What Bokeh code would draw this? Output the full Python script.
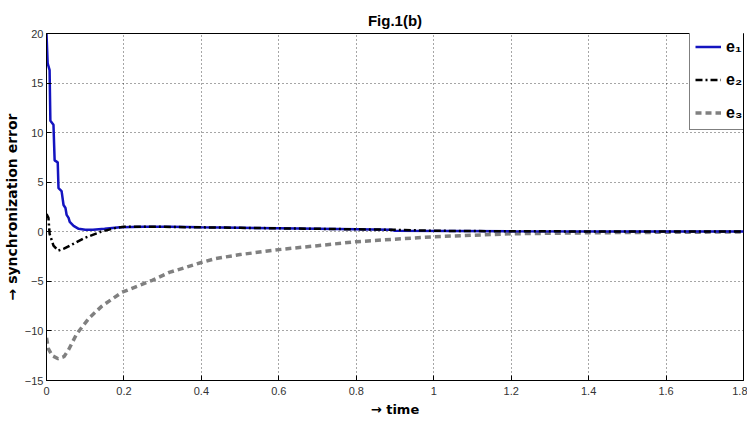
from bokeh.plotting import figure
from bokeh.models import Range1d, Legend, LegendItem, FixedTicker
from bokeh.embed import file_html
from bokeh.resources import INLINE

# ---- data ----
t1 = [0, 0.003, 0.008, 0.010, 0.018, 0.021, 0.029, 0.031, 0.039, 0.044, 0.049, 0.052,
      0.057, 0.060, 0.070, 0.083, 0.10, 0.12, 0.15, 0.19, 0.25, 0.32, 0.40, 0.50,
      0.60, 0.70, 0.80, 0.89, 0.90, 1.2, 1.5, 1.8]
e1 = [20, 17, 16.3, 11.2, 10.8, 7.2, 7.0, 4.4, 4.1, 2.7, 2.4, 1.7,
      1.4, 1.0, 0.6, 0.3, 0.2, 0.2, 0.3, 0.45, 0.5, 0.5, 0.45, 0.4,
      0.35, 0.3, 0.25, 0.2, 0.1, 0.05, 0.03, 0.02]

t2 = [0, 0.005, 0.008, 0.018, 0.03, 0.045, 0.065, 0.1, 0.14, 0.18, 0.2, 0.3, 0.4,
      0.5, 0.6, 0.7, 0.8, 0.9, 1.0, 1.2, 1.5, 1.8]
e2 = [1.8, 1.4, -0.2, -1.4, -1.9, -1.7, -1.3, -0.6, 0.0, 0.4, 0.5, 0.5, 0.45,
      0.4, 0.35, 0.3, 0.25, 0.2, 0.1, 0.05, 0.03, 0.02]

t3 = [0, 0.005, 0.015, 0.03, 0.045, 0.057, 0.078, 0.11, 0.143, 0.195, 0.273, 0.317,
      0.4, 0.436, 0.5, 0.6, 0.7, 0.8, 0.9, 1.0, 1.1, 1.2, 1.4, 1.6, 1.8]
e3 = [-10.7, -11.8, -12.5, -12.8, -12.6, -11.9, -10.3, -8.7, -7.5, -6.1, -4.9, -4.1,
      -3.1, -2.7, -2.3, -1.8, -1.4, -1.0, -0.75, -0.5, -0.35, -0.2, -0.1, -0.05, -0.02]

x_ticks = [0, 0.2, 0.4, 0.6, 0.8, 1, 1.2, 1.4, 1.6, 1.8]
x_tick_labels = ["0", "0.2", "0.4", "0.6", "0.8", "1", "1.2", "1.4", "1.6", "1.8"]
y_ticks = [-15, -10, -5, 0, 5, 10, 15, 20]
series_names = ["e\u2081", "e\u2082", "e\u2083"]

NARROW = "'Liberation Sans Narrow', 'Arial Narrow', 'Liberation Sans', sans-serif"
BOLD = "'DejaVu Sans', sans-serif"

p = figure(width=747, height=423, output_backend="svg", toolbar_location=None,
           x_range=Range1d(0, 1.8), y_range=Range1d(-15, 20),
           min_border_left=45, min_border_right=4, min_border_top=33, min_border_bottom=43,
           title="Fig.1(b)")
p.title.align = "center"
p.title.text_font = NARROW
p.title.text_font_style = "bold"
p.title.text_font_size = "15px"
p.title.text_color = "black"
p.title.offset = 0

p.outline_line_color = "black"
p.outline_line_width = 1

xax = p.xaxis[0]
yax = p.yaxis[0]
for ax in (xax, yax):
    ax.major_tick_in = 5
    ax.major_tick_out = 0
    ax.minor_tick_in = 0
    ax.minor_tick_out = 0
    ax.axis_line_color = "black"
    ax.major_label_text_font = NARROW
    ax.major_label_text_font_size = "11px"
    ax.major_label_text_color = "#333333"
    ax.axis_label_text_font = BOLD
    ax.axis_label_text_font_style = "bold"
    ax.axis_label_text_color = "black"

xax.ticker = FixedTicker(ticks=x_ticks)
xax.major_label_overrides = {t: l for t, l in zip(x_ticks, x_tick_labels)}
yax.ticker = FixedTicker(ticks=y_ticks)
xax.axis_label = "\u2192 time"
yax.axis_label = "\u2192 synchronization error"
xax.axis_label_text_font_size = "13px"
yax.axis_label_text_font_size = "14px"
xax.axis_label_standoff = 4
xax.major_label_standoff = 6
yax.axis_label_standoff = 2
yax.major_label_standoff = 3

p.xgrid.ticker = FixedTicker(ticks=x_ticks)
p.ygrid.ticker = FixedTicker(ticks=y_ticks)
for g in (p.xgrid[0], p.ygrid[0]):
    g.grid_line_color = "black"
    g.grid_line_dash = "1 3"
    g.grid_line_alpha = 0.7

r1 = p.line(t1, e1, line_color="#1414c0", line_width=2.5)
r2 = p.line(t2, e2, line_color="black", line_width=2.5, line_dash="7 3 2 3")
r3 = p.line(t3, e3, line_color="#808080", line_width=3.5, line_dash="6 4")
p.renderers = [r3, r1, r2]

legend = Legend(items=[LegendItem(label=series_names[0], renderers=[r1]),
                       LegendItem(label=series_names[1], renderers=[r2]),
                       LegendItem(label=series_names[2], renderers=[r3])],
                location=(643, 250))
legend.border_line_color = "black"
legend.border_line_width = 1
legend.background_fill_alpha = 1
legend.label_text_font = NARROW
legend.label_text_font_style = "bold"
legend.label_text_font_size = "16px"
legend.label_text_color = "black"
legend.glyph_width = 26
legend.glyph_height = 23
legend.label_height = 23
legend.spacing = 10
legend.padding = 5
legend.margin = 0
legend.label_standoff = 5
p.add_layout(legend, "center")

open("out.html", "w").write(file_html(p, INLINE))
